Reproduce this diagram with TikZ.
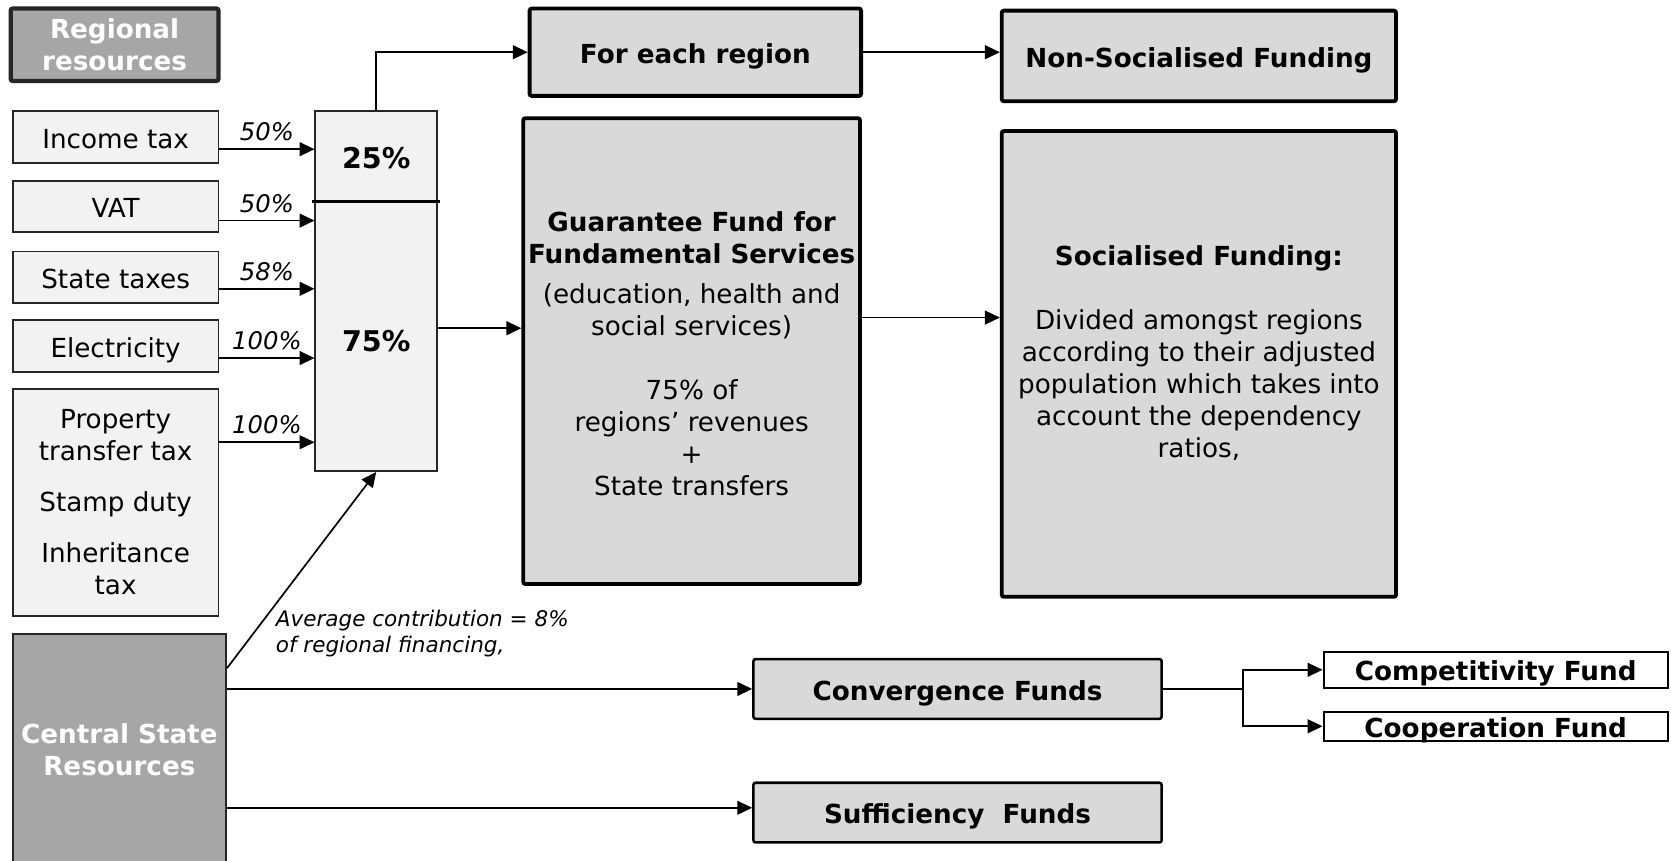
\documentclass[tikz,border=0pt]{standalone}
\usepackage{fontspec}
\setmainfont{DejaVu Sans}
\usetikzlibrary{arrows.meta}

\begin{document}
\begin{tikzpicture}[x=.5pt, y=-.5pt,
        every node/.style = {font=\fontsize{12.3}{15}\selectfont, align=center},
        oneline/.style = {text height=10.5pt, text depth=0pt},
        inbox/.style = {draw=black!85, line width=.9pt, fill=black!5, inner sep=0pt},
        resbox/.style = {draw=black!85, fill=black!35, text=white, inner sep=0pt, font=\fontsize{12.3}{15}\selectfont\bfseries},
        fundbox/.style = {draw, line width=1.8pt, fill=black!15, rounded corners=1pt, inner sep=0pt, font=\fontsize{12.3}{15}\selectfont\bfseries},
        subfund/.style = {draw, line width=1pt, fill=white, inner sep=0pt, oneline, font=\fontsize{12.3}{15}\selectfont\bfseries},
        share/.style = {font=\fontsize{11.4}{14}\selectfont\itshape},
        part/.style = {font=\fontsize{13.4}{16}\selectfont\bfseries},
        arr/.style = {-{Triangle[length=7pt, width=6.5pt]}, line width=.8pt}]
        \clip (0,0) rectangle (1568,807);

        % regional resources
        \node[resbox, line width=2pt, rounded corners=1pt, minimum width=97.5pt, minimum height=34pt] (regres) at (107.5,42) {Regional\\resources};
        \node[inbox, oneline, minimum width=96.5pt, minimum height=24.5pt] (income) at (108.5,128.5) {Income tax};
        \node[inbox, oneline, minimum width=96.5pt, minimum height=24pt] (vat) at (108.5,194) {VAT};
        \node[inbox, oneline, minimum width=96.5pt, minimum height=24pt] (statetax) at (108.5,260) {State taxes};
        \node[inbox, oneline, minimum width=96.5pt, minimum height=24.5pt] (elec) at (108.5,324.5) {Electricity};
        \node[inbox, minimum width=96.5pt, minimum height=106.5pt] (prop) at (108.5,471.5) {Property\\transfer tax\\[9pt]Stamp duty\\[9pt]Inheritance\\tax};

        \node[inbox, minimum width=57pt, minimum height=169pt] (pool) at (353,273) {};
        \draw[line width=1.5pt] ([xshift=-1pt]pool.west |- 0,189) -- ([xshift=1pt]pool.east |- 0,189);
        \node[part] (top25) at (353,148) {25\%};
        \node[part] (low75) at (353,320) {75\%};

        \node[resbox, line width=1pt, minimum width=100pt, minimum height=108.5pt] (central) at (112,703.5) {Central State\\Resources};

        % funds
        \node[fundbox, oneline, minimum width=155.5pt, minimum height=41pt] (foreach) at (652.5,49) {For each region};
        \node[fundbox, oneline, minimum width=185pt, minimum height=42.5pt] (nonsoc) at (1125,52.5) {Non-Socialised Funding};
        \node[fundbox, minimum width=158pt, minimum height=218.5pt] (guar) at (649,329.5) {};
        \node (guartext) at (649,332) {\textbf{Guarantee Fund for}\\\textbf{Fundamental Services}\\[3.5pt](education, health and\\social services)\\[15pt]75\% of\\regions' revenues\\+\\State transfers};
        \node[fundbox, minimum width=185pt, minimum height=218.5pt] (soc) at (1125,341.5) {};
        \node (soctext) at (1125,331) {\textbf{Socialised Funding:}\\[15pt]Divided amongst regions\\according to their adjusted\\population which takes into\\account the dependency\\ratios,};

        \node[fundbox, oneline, line width=1.2pt, minimum width=191.5pt, minimum height=28pt] (conv) at (898.5,646.5) {Convergence Funds};
        \node[fundbox, oneline, line width=1.2pt, minimum width=191.5pt, minimum height=28pt] (suff) at (898.5,762.5) {Sufficiency~~Funds};
        \node[subfund, minimum width=161.5pt, minimum height=17pt] (compet) at (1403.5,628.5) {Competitivity Fund};
        \node[subfund, minimum width=161.5pt, minimum height=13.5pt] (coop) at (1403.5,681.5) {Cooperation Fund};

        % flows
        \draw[arr] (income.east |- 0,140) -- node[share, above] {50\%} (pool.west |- 0,140);
        \draw[arr] (vat.east |- 0,207) -- node[share, above] {50\%} (pool.west |- 0,207);
        \draw[arr] (statetax.east |- 0,271) -- node[share, above] {58\%} (pool.west |- 0,271);
        \draw[arr] (elec.east |- 0,336) -- node[share, above] {100\%} (pool.west |- 0,336);
        \draw[arr] (prop.east |- 0,415) -- node[share, above] {100\%} (pool.west |- 0,415);

        \draw[arr] (pool.north) |- (foreach.west);
        \draw[arr] (foreach.east) -- (foreach.east -| nonsoc.west);
        \draw[arr] (pool.east |- 0,308) -- (guar.west |- 0,308);
        \draw[arr] (guar.east |- 0,298) -- (soc.west |- 0,298);

        \draw[arr] (central.east |- 0,627) -- (pool.south);
        \node[font=\fontsize{10.1}{12.5}\selectfont\itshape, align=left, anchor=west, inner sep=0pt] (avgnote) at (258.5,594.5) {Average contribution = 8\%\\of regional financing,};
        \draw[arr] (central.east |- conv.west) -- (conv.west);
        \draw[arr] (central.east |- 0,758) -- (suff.west |- 0,758);

        \coordinate (split) at ([xshift=37.5pt]conv.east);
        \draw[line width=.8pt] (conv.east) -- (split);
        \draw[arr] (split) |- (compet.west);
        \draw[arr] (split) |- (coop.west);
    \end{tikzpicture}
\end{document}
